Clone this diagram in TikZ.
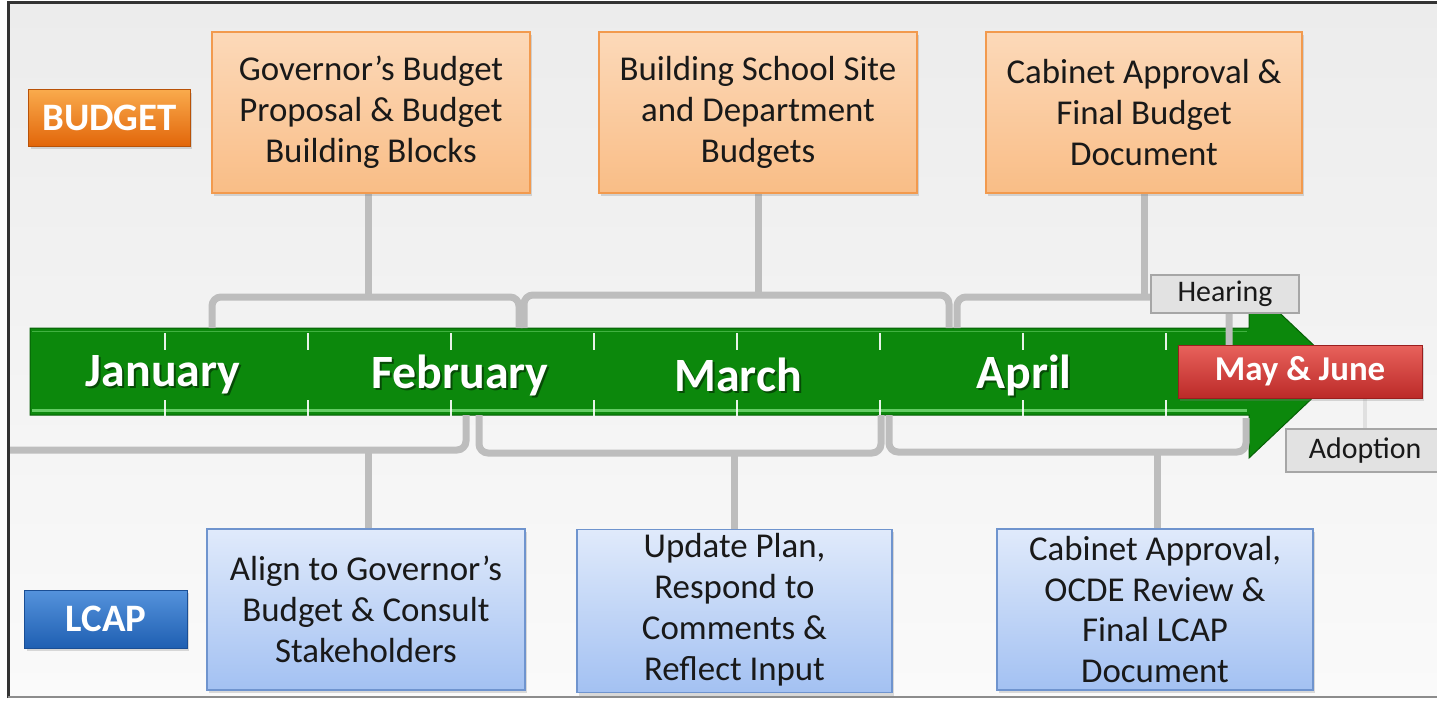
\documentclass[tikz,border=0pt]{standalone}
\usepackage{fontspec}
\setmainfont{Carlito}
\usetikzlibrary{shadows}
\pgfdeclarelayer{bg}
\pgfdeclarelayer{arrowlayer}
\pgfdeclarelayer{connlayer}
\pgfsetlayers{bg,arrowlayer,connlayer,main}
\definecolor{orfillA}{HTML}{FCD9B9}
\definecolor{orfillB}{HTML}{F9BD86}
\definecolor{orline}{HTML}{F29A4E}
\definecolor{blfillA}{HTML}{E0EAFB}
\definecolor{blfillB}{HTML}{A3C1F2}
\definecolor{blline}{HTML}{6F94CE}
\definecolor{connc}{HTML}{BDBDBD}
\definecolor{grn}{RGB}{12,136,12}
\definecolor{grndark}{RGB}{6,96,6}
\definecolor{grnlight}{RGB}{100,204,100}
\definecolor{budA}{HTML}{F9AA4C}
\definecolor{budB}{HTML}{E2660A}
\definecolor{budL}{HTML}{B85208}
\definecolor{lcA}{HTML}{5593DC}
\definecolor{lcB}{HTML}{1F5FB2}
\definecolor{lcL}{HTML}{1A4E94}
\definecolor{redA}{HTML}{E8625C}
\definecolor{redB}{HTML}{BC2A28}
\definecolor{redL}{HTML}{9A1E1E}
\definecolor{greyfill}{HTML}{E2E2E2}
\definecolor{greyline}{HTML}{A6A6A6}
\tikzset{
  shad/.style={drop shadow={opacity=0.28, shadow xshift=2bp, shadow yshift=-3bp}},
  topbox/.style={draw=orline, line width=1.2bp, top color=orfillA, bottom color=orfillB,
    minimum width=318bp, minimum height=161bp, align=center, inner sep=0pt,
    font=\fontsize{35}{41}\selectfont, text=black!90, shad},
  botbox/.style={topbox, draw=blline, top color=blfillA, bottom color=blfillB},
  tag/.style={line width=1bp, minimum width=161bp, minimum height=56bp, inner sep=0pt,
    text=white, font=\bfseries\fontsize{39}{42}\selectfont, shad},
  small/.style={draw=greyline, fill=greyfill, line width=1.5bp, inner sep=0pt,
    font=\fontsize{30}{34}\selectfont, text=black!90},
  month/.style={text=white, font=\bfseries\fontsize{48}{52}\selectfont, inner sep=0pt},
  monthsh/.style={month, text=black, opacity=0.45},
  conn/.style={draw=connc, line width=7bp, rounded corners=9bp},
  tick/.style={draw=white, line width=1.3bp, opacity=0.9}
}
\begin{document}
\begin{tikzpicture}[x=1bp,y=-1bp]
\useasboundingbox (0,0) rectangle (1437,701);
% background and frame
\begin{pgfonlayer}{bg}
\fill[white] (0,0) rectangle (1437,701);
\shade[top color={rgb,255:red,236;green,236;blue,236}, bottom color={rgb,255:red,250;green,250;blue,250}] (8,3) rectangle (1437,697);
\draw[black!80, line width=3bp] (8,698) -- (8,3) -- (1437,3);
\draw[black!45, line width=2bp] (8,697) -- (1437,697);
\end{pgfonlayer}
% timeline arrow
\begin{pgfonlayer}{arrowlayer}
\fill[grn, draw=grndark, line width=1bp] (30,328) -- (1249,328) -- (1249,284) -- (1341,371) -- (1249,458) -- (1249,415) -- (30,415) -- cycle;
\draw[grnlight!60!grn, line width=1.5bp] (32,331.5) -- (1247,331.5);
\draw[grnlight, line width=3bp] (32,410) -- (1247,410);
\foreach \x in {165,308,451,594,737,880,1023,1166} {
  \draw[tick] (\x,333) -- (\x,350);
  \draw[tick] (\x,400) -- (\x,416);
}
\end{pgfonlayer}
% month labels
\foreach \n/\t/\x in {jan/January/163, feb/February/460, mar/March/738, apr/April/1024} {
  \node[monthsh] (\n s) at (\x+2,377) {\t};
  \node[month] (\n) at (\x,375) {\t};
}
% category tags
\node[tag, draw=budL, top color=budA, bottom color=budB] (budget) at (109.5,118) {BUDGET};
\node[tag, draw=lcL, top color=lcA, bottom color=lcB, minimum width=162bp, minimum height=58bp] (lcap) at (106,619) {LCAP};
% top boxes
\node[topbox] (t1) at (371,112.5) {Governor’s Budget\\Proposal \& Budget\\Building Blocks};
\node[topbox] (t2) at (758,112.5) {Building School Site\\and Department\\Budgets};
\node[topbox, minimum width=316bp] (t3) at (1144,112.5) {Cabinet Approval \&\\Final Budget\\Document};
% bottom boxes
\node[botbox] (b1) at (366,609.5) {Align to Governor’s\\Budget \& Consult\\Stakeholders};
\node[botbox, minimum width=315bp, minimum height=162bp] (b2) at (734.5,611) {\strut Update Plan,\\Respond to\\Comments \&\\Reflect Input\strut};
\node[botbox, minimum width=316bp] (b3) at (1155,609.5) {Cabinet Approval,\\OCDE Review \&\\Final LCAP\\Document};
% May & June, Hearing, Adoption
\node[tag, draw=redL, top color=redA, bottom color=redB, minimum width=244bp, minimum height=53bp, font=\bfseries\fontsize{35}{38}\selectfont] (mj) at (1300,371.5) {May \& June};
\node[small, minimum width=148bp, minimum height=38bp] (hear) at (1225,294) {Hearing};
\node[small, minimum width=158bp, minimum height=43bp] (adopt) at (1365,450.5) {Adoption};
% bracket anchor coordinates
\coordinate (ta1) at (212,328); \coordinate (tb1) at (519,328);
\coordinate (ta2) at (524,328); \coordinate (tb2) at (949,328);
\coordinate (ta3) at (957,328); \coordinate (tb3) at (1229,346);
\coordinate (ba1) at (10,450);  \coordinate (bb1) at (466,415);
\coordinate (ba2) at (479,415); \coordinate (bb2) at (881,415);
\coordinate (ba3) at (889,415); \coordinate (bb3) at (1246,418);
\coordinate (tlev1) at (0,297); \coordinate (tlev2) at (0,295); \coordinate (tlev3) at (0,297);
\coordinate (blev1) at (0,450); \coordinate (blev2) at (0,453); \coordinate (blev3) at (0,452);
% connectors
\begin{pgfonlayer}{connlayer}
\draw[conn] (ta1) -- (ta1 |- tlev1) -- (tb1 |- tlev1) -- (tb1);
\draw[conn] (ta2) -- (ta2 |- tlev2) -- (tb2 |- tlev2) -- (tb2);
\draw[conn] (ta3) -- (ta3 |- tlev3) -- (tb3 |- tlev3) -- (tb3);
\draw[conn, rounded corners=0] (t1.south -| 368,0) -- (368,297);
\draw[conn, rounded corners=0] (t2.south) -- (t2.south |- tlev2);
\draw[conn, rounded corners=0] (t3.south) -- (t3.south |- tlev3);
\draw[conn] (ba1) -- (bb1 |- blev1) -- (bb1);
\draw[conn] (ba2) -- (ba2 |- blev2) -- (bb2 |- blev2) -- (bb2);
\draw[conn] (ba3) -- (ba3 |- blev3) -- (bb3 |- blev3) -- (bb3);
\draw[conn, rounded corners=0] (b1.north -| 368,0) -- (368,450);
\draw[conn, rounded corners=0] (b2.north) -- (b2.north |- blev2);
\draw[conn, rounded corners=0] (b3.north -| 1157,0) -- (1157,452);
\draw[draw=white!88!black, line width=4bp] (mj.south -| adopt.north) -- (adopt.north);
\end{pgfonlayer}
\end{tikzpicture}
\end{document}
